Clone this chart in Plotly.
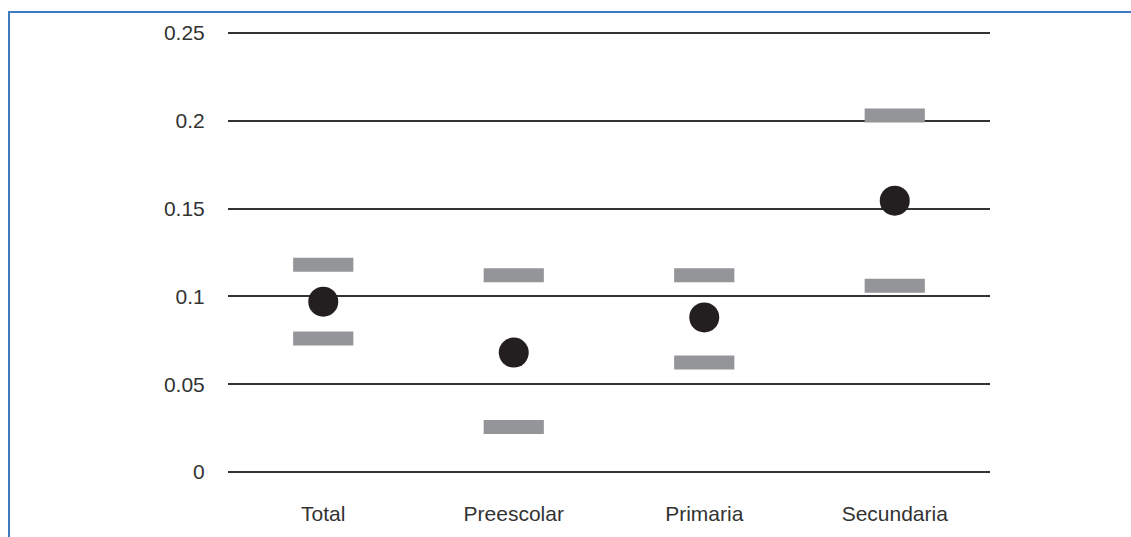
import plotly.graph_objects as go

categories = ["Total", "Preescolar", "Primaria", "Secundaria"]
estimate = [0.097, 0.068, 0.088, 0.1545]
upper = [0.118, 0.112, 0.112, 0.203]
lower = [0.076, 0.0256, 0.0623, 0.106]
y_ticks = [0, 0.05, 0.1, 0.15, 0.2, 0.25]
y_tick_labels = ["0", "0.05", "0.1", "0.15", "0.2", "0.25"]

W, H = 1131, 537
L, R, T, B = 228, 141, 32, 64
pw, ph = W - L - R, H - T - B

gray = "#939598"
fig = go.Figure()
for vals in (upper, lower):
    fig.add_trace(go.Scatter(
        x=categories, y=vals, mode="markers",
        marker=dict(symbol="line-ew", size=43, color=gray,
                    line=dict(width=14, color=gray)),
        showlegend=False, hoverinfo="skip"))
fig.add_trace(go.Scatter(
    x=categories, y=estimate, mode="markers",
    marker=dict(symbol="circle", size=30, color="#231f20",
                line=dict(width=0)),
    showlegend=False))

def px_x(p):
    return (p - L) / pw
def px_y(p):
    return (H - B - p) / ph

blue = "#3d7cc0"
fig.add_shape(type="line", xref="paper", yref="paper",
              x0=px_x(9), x1=px_x(9), y0=px_y(12), y1=px_y(H + 5),
              line=dict(color=blue, width=2))
fig.add_shape(type="line", xref="paper", yref="paper",
              x0=px_x(8), x1=px_x(W + 5), y0=px_y(12), y1=px_y(12),
              line=dict(color=blue, width=2))

fig.update_layout(
    width=W, height=H, autosize=False,
    margin=dict(l=L, r=R, t=T, b=B, pad=0, autoexpand=False),
    paper_bgcolor="white", plot_bgcolor="white",
    font=dict(family="Liberation Sans, Arial, sans-serif", color="#333333", size=21),
    xaxis=dict(type="category", showgrid=False, showline=False, zeroline=False,
               automargin=False,
               ticks="outside", ticklen=22, tickcolor="rgba(0,0,0,0)",
               tickfont=dict(size=21, color="#333333"), range=[-0.5, 3.5]),
    yaxis=dict(range=[-0.0006, 0.2506], tickvals=y_ticks, ticktext=y_tick_labels,
               showgrid=True, gridcolor="#333333", gridwidth=1.5,
               zeroline=False, showline=False, automargin=False,
               ticks="outside", ticklen=18, tickcolor="rgba(0,0,0,0)",
               tickfont=dict(size=21, color="#333333")),
)
fig.write_html("out.html", config={"displayModeBar": False, "responsive": False},
               post_script="document.body.style.margin='0';document.body.style.overflow='hidden';")
